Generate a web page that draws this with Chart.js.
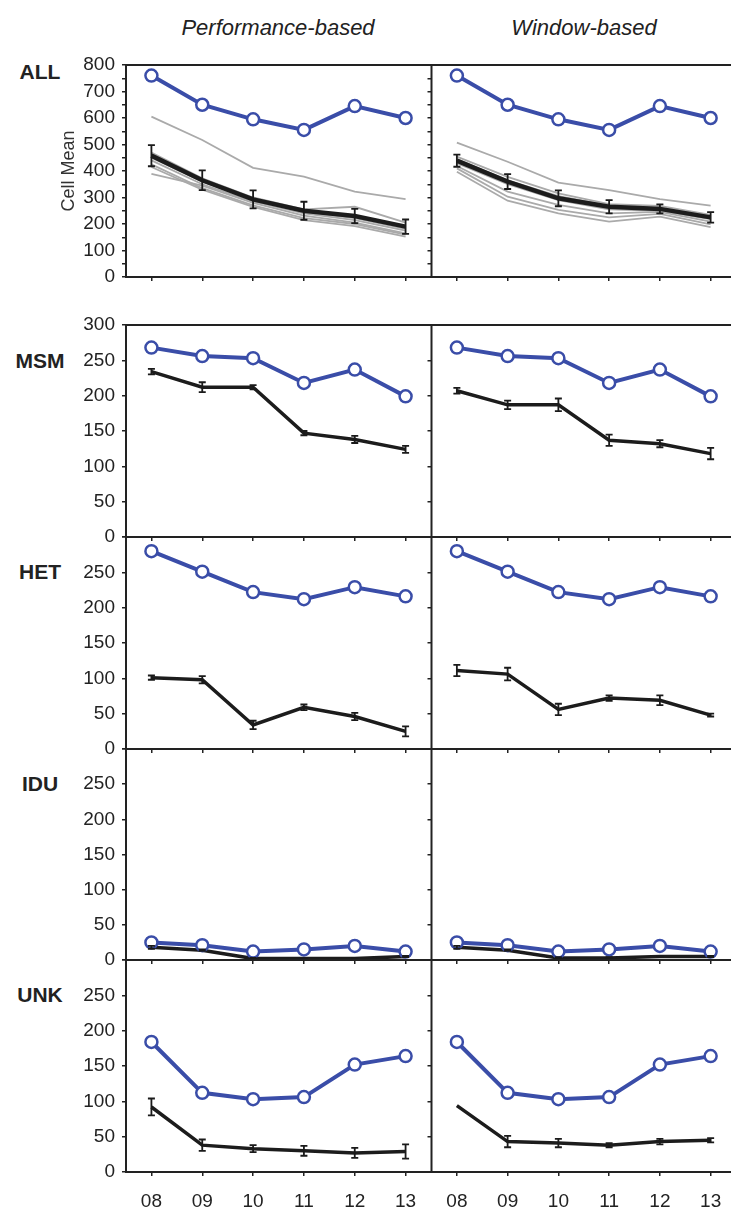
<!DOCTYPE html>
<html>
<head>
<meta charset="utf-8">
<script src="https://cdn.jsdelivr.net/npm/chart.js@4.4.1/dist/chart.umd.min.js"></script>
<style>
html, body { margin: 0; padding: 0; overflow: hidden; background: #fff; width: 731px; height: 1207px; }
canvas { position: absolute; }
.lbl { position: absolute; font-family: "Liberation Sans", Arial, sans-serif; color: #222; transform: translate(-50%, -50%); white-space: nowrap; }
.col { font-style: italic; font-size: 22px; }
.row { font-weight: bold; font-size: 21px; }
</style>
</head>
<body>
<div class="lbl col" style="left:278px; top:28px">Performance-based</div>
<div class="lbl col" style="left:584px; top:28px">Window-based</div>
<div class="lbl row" style="left:40px; top:72px">ALL</div>
<div class="lbl row" style="left:40px; top:361px">MSM</div>
<div class="lbl row" style="left:40px; top:572px">HET</div>
<div class="lbl row" style="left:40px; top:784px">IDU</div>
<div class="lbl row" style="left:40px; top:995px">UNK</div>
<script>
const years = ['08', '09', '10', '11', '12', '13']

// blue = observed, black = model mean, gray = single runs
const allObs = [760, 650, 595, 555, 645, 600]
const allPerf = [458, 365, 293, 250, 230, 190]
const allPerfErr = [40, 37, 34, 34, 27, 27]
const allWin = [439, 360, 297, 265, 257, 225]
const allWinErr = [23, 28, 30, 25, 17, 20]
const allPerfRuns = [
    [605, 517, 412, 379, 322, 294],
    [389, 345, 280, 232, 205, 165],
    [470, 372, 300, 255, 265, 205],
    [440, 350, 285, 240, 215, 175],
    [425, 335, 270, 222, 200, 160],
    [450, 360, 290, 245, 222, 182],
    [415, 330, 265, 215, 192, 152]
]
const allWinRuns = [
    [507, 435, 356, 328, 294, 269],
    [397, 288, 240, 209, 228, 188],
    [410, 303, 253, 225, 238, 199],
    [419, 322, 272, 240, 246, 209],
    [454, 378, 316, 275, 268, 234],
    [430, 350, 290, 255, 250, 218],
    [445, 365, 305, 270, 262, 230]
]

const msmObs = [268, 256, 253, 218, 237, 199]
const msmPerf = [234, 212, 212, 147, 138, 124]
const msmPerfErr = [4, 7, 3, 3, 5, 5]
const msmWin = [207, 187, 187, 137, 132, 118]
const msmWinErr = [4, 6, 9, 8, 5, 8]

const hetObs = [280, 251, 222, 212, 229, 216]
const hetPerf = [101, 98, 34, 59, 46, 25]
const hetPerfErr = [3, 5, 6, 4, 5, 7]
const hetWin = [111, 106, 56, 72, 69, 48]
const hetWinErr = [8, 9, 8, 4, 7, 2]

const iduObs = [25, 21, 12, 15, 20, 12]
const iduPerf = [18, 14, 2, 2, 2, 5]
const iduPerfErr = [2, 1, 1, 1, 1, 1]
const iduWin = [18, 14, 3, 3, 5, 5]
const iduWinErr = [2, 1, 1, 1, 1, 1]

const unkObs = [184, 112, 103, 106, 152, 164]
const unkPerf = [92, 38, 33, 30, 27, 29]
const unkPerfErr = [12, 8, 5, 7, 7, 10]
const unkWin = [94, 43, 41, 38, 43, 45]
const unkWinErr = [0, 8, 6, 3, 4, 3]

const FONT = '"Liberation Sans", Arial, sans-serif'
const BLUE = '#3a4da8'
const INK = '#222222'

Chart.defaults.font.family = FONT
Chart.defaults.color = INK

// box round the plot area; left column leaves its right side to the neighbour
const framePlugin = {
    id: 'frame',
    afterDraw(chart, args, opts) {
        const {ctx, chartArea: a} = chart
        ctx.save()
        ctx.strokeStyle = INK
        ctx.lineWidth = 2
        ctx.beginPath()
        ctx.moveTo(a.right, a.top)
        ctx.lineTo(a.left, a.top)
        ctx.lineTo(a.left, a.bottom)
        ctx.lineTo(a.right, a.bottom)
        if (opts.closeRight) ctx.lineTo(a.right, a.top)
        ctx.stroke()
        ctx.restore()
    }
}

const errorBars = {
    id: 'errorBars',
    afterDatasetsDraw(chart) {
        const ctx = chart.ctx
        const yScale = chart.scales.y
        chart.data.datasets.forEach((ds, i) => {
            if (!ds.errors) return
            const meta = chart.getDatasetMeta(i)
            meta.data.forEach((pt, j) => {
                const e = ds.errors[j]
                if (!e) return
                const y1 = yScale.getPixelForValue(ds.data[j] + e)
                const y2 = yScale.getPixelForValue(ds.data[j] - e)
                ctx.save()
                ctx.strokeStyle = '#1a1a1a'
                ctx.lineWidth = 1.8
                ctx.beginPath()
                ctx.moveTo(pt.x, y1); ctx.lineTo(pt.x, y2)
                ctx.moveTo(pt.x - 3.5, y1); ctx.lineTo(pt.x + 3.5, y1)
                ctx.moveTo(pt.x - 3.5, y2); ctx.lineTo(pt.x + 3.5, y2)
                ctx.stroke()
                ctx.restore()
            })
        })
    }
}

function panel(p) {
    const yW = p.showY ? 72 : 8
    const padT = 22, padR = 10
    const xH = p.showX ? 35 : 22
    const cv = document.createElement('canvas')
    const cw = yW + p.w + padR, ch = padT + p.h + xH
    cv.width = cw; cv.height = ch
    cv.style.width = cw + 'px'; cv.style.height = ch + 'px'
    cv.style.left = (p.left - yW) + 'px'
    cv.style.top = (p.top - padT) + 'px'
    document.body.appendChild(cv)

    let datasets = [{
        data: p.obs,
        borderColor: BLUE,
        borderWidth: 4,
        pointRadius: 6,
        pointBorderWidth: 2.5,
        pointBackgroundColor: '#ffffff',
        pointBorderColor: BLUE,
        tension: 0
    }, {
        data: p.est,
        errors: p.err,
        borderColor: '#1c1c1c',
        borderWidth: p.thick,
        pointRadius: 0,
        tension: 0
    }]
    for (let run of (p.runs || [])) {
        datasets.push({
            data: run,
            borderColor: '#aaaaaa',
            borderWidth: 1.8,
            pointRadius: 0,
            tension: 0
        })
    }

    const tickGrid = {
        display: true,
        drawOnChartArea: false,
        drawTicks: true,
        tickLength: 4,
        color: INK,
        lineWidth: 1.5
    }

    new Chart(cv, {
        type: 'line',
        data: {labels: years, datasets},
        options: {
            responsive: false,
            devicePixelRatio: 1,
            animation: false,
            layout: {padding: {top: padT, right: padR, left: 0, bottom: 0}},
            plugins: {
                legend: {display: false},
                tooltip: {enabled: false},
                frame: {closeRight: !p.showY}
            },
            scales: {
                x: {
                    type: 'category',
                    offset: true,
                    grid: tickGrid,
                    border: {display: false},
                    ticks: {display: p.showX, font: {size: 19}, color: INK, padding: 14},
                    afterFit: s => { s.height = xH }
                },
                y: {
                    min: 0,
                    max: p.yMax,
                    grid: tickGrid,
                    border: {display: false},
                    title: {
                        display: !!p.yTitle,
                        text: p.yTitle || '',
                        font: {size: 18},
                        color: '#333',
                        padding: {top: 4, bottom: 4}
                    },
                    ticks: {
                        display: p.showY,
                        stepSize: 50,
                        autoSkip: false,
                        maxTicksLimit: 40,
                        font: {size: 19},
                        color: INK,
                        padding: 7,
                        callback: v => {
                            if (p.yMax === 800) return v % 100 === 0 ? v : ''
                            if (v === 300 && p.hideTop) return ''
                            return v
                        }
                    },
                    afterFit: s => { s.width = yW }
                }
            }
        },
        plugins: [framePlugin, errorBars]
    })
}

const rows = [
    {top: 65, h: 212, yMax: 800, obs: allObs, perf: allPerf, perfErr: allPerfErr, win: allWin, winErr: allWinErr, perfRuns: allPerfRuns, winRuns: allWinRuns, thick: 4.5, title: 'Cell Mean'},
    {top: 325, h: 212, yMax: 300, obs: msmObs, perf: msmPerf, perfErr: msmPerfErr, win: msmWin, winErr: msmWinErr, thick: 3.5},
    {top: 537, h: 212, yMax: 300, obs: hetObs, perf: hetPerf, perfErr: hetPerfErr, win: hetWin, winErr: hetWinErr, thick: 3.5, hideTop: true},
    {top: 749, h: 211, yMax: 300, obs: iduObs, perf: iduPerf, perfErr: iduPerfErr, win: iduWin, winErr: iduWinErr, thick: 3.5, hideTop: true},
    {top: 960, h: 212, yMax: 300, obs: unkObs, perf: unkPerf, perfErr: unkPerfErr, win: unkWin, winErr: unkWinErr, thick: 3.5, hideTop: true, bottom: true}
]

for (let r of rows) {
    panel({left: 126, w: 305, top: r.top, h: r.h, yMax: r.yMax, obs: r.obs, est: r.perf, err: r.perfErr,
        runs: r.perfRuns, thick: r.thick, showY: true, showX: !!r.bottom, yTitle: r.title, hideTop: r.hideTop})
    panel({left: 431, w: 305, top: r.top, h: r.h, yMax: r.yMax, obs: r.obs, est: r.win, err: r.winErr,
        runs: r.winRuns, thick: r.thick, showY: false, showX: !!r.bottom, hideTop: r.hideTop})
}
</script>
</body>
</html>
